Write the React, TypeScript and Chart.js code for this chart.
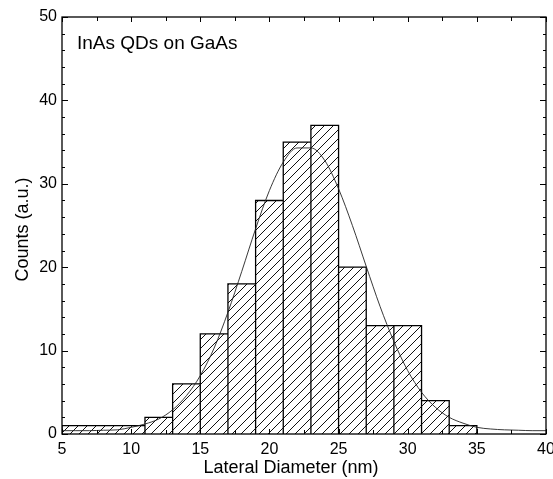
import { useEffect, useRef } from 'react';
import { Chart, registerables } from 'chart.js';

Chart.register(...registerables);

// Histogram bins (nm) and counts
const binEdges = [5, 11, 13, 15, 17, 19, 21, 23, 25, 27, 29, 31, 33, 35];
const counts = [1, 2, 6, 12, 18, 28, 35, 37, 20, 13, 13, 4, 1];

// Gaussian fit curve sampled at 1 nm
const fitX = [5, 6, 7, 8, 9, 10, 11, 12, 13, 14, 15, 16, 17, 18, 19, 20, 21, 22, 23, 24, 25, 26, 27, 28, 29, 30, 31, 32, 33, 34, 35, 36, 37, 38, 39, 40];
const fitY = [0.4, 0.4, 0.4, 0.45, 0.5, 0.8, 1.2, 1.8, 2.9, 4.6, 7.0, 10.3, 14.6, 19.5, 24.6, 29.2, 32.6, 34.3, 34.3, 32.8, 29.4, 25.0, 20.1, 15.3, 11.1, 7.6, 5.0, 3.2, 2.0, 1.3, 0.8, 0.6, 0.5, 0.45, 0.4, 0.4];

// Axis ticks
const xMajorTicks = [5, 10, 15, 20, 25, 30, 35, 40];
const xMinorTicks = [7.5, 12.5, 17.5, 22.5, 27.5, 32.5, 37.5];
const yMajorTicks = [0, 10, 20, 30, 40, 50];
const yMinorTicks = [2, 4, 6, 8, 12, 14, 16, 18, 22, 24, 26, 28, 32, 34, 36, 38, 42, 44, 46, 48];

const xTitle = 'Lateral Diameter (nm)';
const yTitle = 'Counts (a.u.)';
const sampleLabel = 'InAs QDs on GaAs';

const FONT = '"Liberation Sans", Arial, sans-serif';

function makeHatch(): CanvasPattern | string {
  const size = 9;
  const c = document.createElement('canvas');
  c.width = size;
  c.height = size;
  const g = c.getContext('2d');
  if (!g) return 'transparent';
  g.strokeStyle = '#111';
  g.lineWidth = 1;
  g.beginPath();
  g.moveTo(0, size);
  g.lineTo(size, 0);
  g.moveTo(-1, 1);
  g.lineTo(1, -1);
  g.moveTo(size - 1, size + 1);
  g.lineTo(size + 1, size - 1);
  g.stroke();
  const p = g.createPattern(c, 'repeat');
  return p || 'transparent';
}

// Frame, inward ticks on all four sides, and text labels
const framePlugin = {
  id: 'frameTicks',
  afterDatasetsDraw(chart: any) {
    const { ctx, chartArea: a, scales } = chart;
    const xs = scales.x;
    const ys = scales.y;
    ctx.save();
    ctx.strokeStyle = '#000';
    ctx.lineWidth = 1.3;
    ctx.strokeRect(a.left, a.top, a.right - a.left, a.bottom - a.top);
    ctx.lineWidth = 1;
    ctx.beginPath();
    const xt = (vals: number[], len: number) => {
      vals.forEach((v) => {
        const px = Math.round(xs.getPixelForValue(v)) + 0.5;
        ctx.moveTo(px, a.bottom);
        ctx.lineTo(px, a.bottom - len);
        ctx.moveTo(px, a.top);
        ctx.lineTo(px, a.top + len);
      });
    };
    const yt = (vals: number[], len: number) => {
      vals.forEach((v) => {
        const py = Math.round(ys.getPixelForValue(v)) + 0.5;
        ctx.moveTo(a.left, py);
        ctx.lineTo(a.left + len, py);
        ctx.moveTo(a.right, py);
        ctx.lineTo(a.right - len, py);
      });
    };
    xt(xMajorTicks, 5);
    xt(xMinorTicks, 4);
    yt(yMajorTicks, 6);
    yt(yMinorTicks, 3);
    ctx.stroke();

    ctx.fillStyle = '#000';
    ctx.font = `19px ${FONT}`;
    ctx.textAlign = 'left';
    ctx.textBaseline = 'middle';
    ctx.fillText(sampleLabel, a.left + 15, a.top + 27);

    ctx.font = `18px ${FONT}`;
    ctx.textAlign = 'center';
    ctx.fillText(xTitle, a.left + (a.right - a.left) * 0.473, 468);

    ctx.translate(23, (a.top + a.bottom) / 2 + 4);
    ctx.rotate(-Math.PI / 2);
    ctx.fillText(yTitle, 0, 0);
    ctx.restore();
  },
};

export default function App() {
  const ref = useRef<HTMLCanvasElement | null>(null);

  useEffect(() => {
    if (!ref.current) return;

    // Outline of each bar: up the left edge, across, down the right edge
    const histPoints: { x: number; y: number }[] = [];
    counts.forEach((c, i) => {
      const x0 = binEdges[i];
      const x1 = binEdges[i + 1];
      histPoints.push({ x: x0, y: 0 }, { x: x0, y: c }, { x: x1, y: c }, { x: x1, y: 0 });
    });
    const fitPoints = fitX.map((x, i) => ({ x, y: fitY[i] }));

    const chart = new Chart(ref.current, {
      type: 'line',
      data: {
        datasets: [
          {
            data: histPoints,
            borderColor: '#000',
            borderWidth: 1.3,
            backgroundColor: makeHatch() as any,
            fill: 'origin',
            pointRadius: 0,
            tension: 0,
            order: 2,
          },
          {
            data: fitPoints,
            borderColor: '#222',
            borderWidth: 0.9,
            fill: false,
            pointRadius: 0,
            cubicInterpolationMode: 'monotone',
            order: 1,
          },
        ],
      },
      options: {
        animation: false,
        responsive: false,
        devicePixelRatio: 1,
        layout: { padding: { left: 0, top: 17, right: 7, bottom: 0 } },
        plugins: {
          legend: { display: false },
          tooltip: { enabled: false },
        },
        scales: {
          x: {
            type: 'linear',
            min: 5,
            max: 40,
            grid: { display: false, drawTicks: false },
            border: { display: false },
            afterBuildTicks: (s: any) => {
              s.ticks = xMajorTicks.map((v) => ({ value: v }));
            },
            afterFit: (s: any) => {
              s.height = 45;
              s.paddingLeft = 0;
              s.paddingRight = 0;
            },
            ticks: {
              color: '#000',
              font: { family: FONT, size: 16 },
              padding: 6,
              maxRotation: 0,
              autoSkip: false,
            },
          },
          y: {
            min: 0,
            max: 50,
            grid: { display: false, drawTicks: false },
            border: { display: false },
            afterBuildTicks: (s: any) => {
              s.ticks = yMajorTicks.map((v) => ({ value: v }));
            },
            afterFit: (s: any) => {
              s.width = 62;
              s.paddingTop = 0;
              s.paddingBottom = 0;
            },
            ticks: {
              color: '#000',
              font: { family: FONT, size: 16 },
              padding: 5,
            },
          },
        },
      },
      plugins: [framePlugin],
    });

    return () => chart.destroy();
  }, []);

  return (
    <div style={{ position: 'absolute', left: 0, top: 0, width: 553, height: 479, background: '#fff' }}>
      <canvas ref={ref} width={553} height={479} />
    </div>
  );
}
